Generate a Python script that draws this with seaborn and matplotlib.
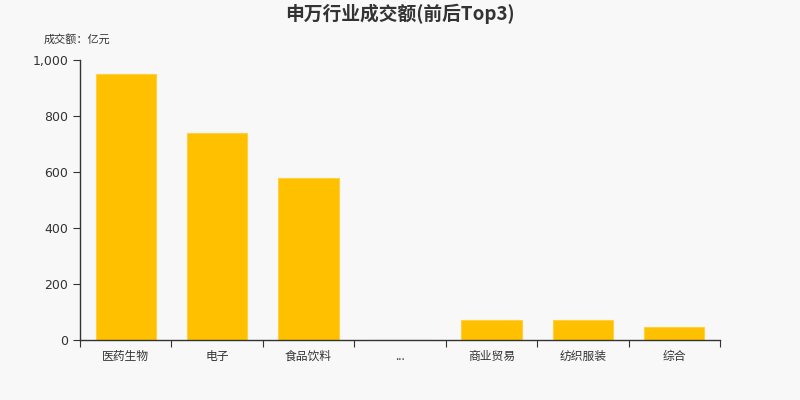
import matplotlib
matplotlib.use('Agg')
import matplotlib.pyplot as plt
import matplotlib.ticker as mticker
import seaborn as sns
import pandas as pd

# chart values
industries = ['医药生物', '电子', '食品饮料', '...', '商业贸易', '纺织服装', '综合']
turnover = [950, 739, 579, 0, 71, 70, 46]
y_ticks = [0, 200, 400, 600, 800, 1000]

sns.set_style('ticks')
plt.rcParams['font.family'] = ['DejaVu Sans', 'Noto Sans CJK SC']
cjk = ['Noto Sans CJK SC', 'DejaVu Sans']
txt = '#333333'

df = pd.DataFrame({'industry': industries, 'turnover': turnover})

fig = plt.figure(figsize=(8, 4), dpi=100, facecolor='#f8f8f8')
ax = fig.add_axes([0.1, 0.15, 0.8, 0.7])
ax.set_facecolor('#f8f8f8')

sns.barplot(data=df, x='industry', y='turnover', color='#ffc000', saturation=1,
            width=0.66, edgecolor='#ffd040', linewidth=0.8, ax=ax)

ax.set_xlim(-0.5, len(industries) - 0.5)
ax.set_ylim(0, 1000)
ax.set_yticks(y_ticks)
ax.yaxis.set_major_formatter(mticker.FuncFormatter(lambda v, p: f'{int(v):,}'))

# ticks between categories, labels at centres
ax.set_xticks([i - 0.5 for i in range(len(industries) + 1)])
ax.set_xticklabels([])
ax.set_xticks(range(len(industries)), minor=True)
ax.set_xticklabels(industries, minor=True, family=cjk, fontsize=8.5, color=txt)
ax.tick_params(axis='x', which='minor', length=0, pad=7)
ax.tick_params(axis='x', which='major', length=5, color=txt)
ax.tick_params(axis='y', length=5, color=txt, labelsize=9, labelcolor=txt)

ax.set_xlabel('')
ax.set_ylabel('')
for s in ['top', 'right']:
    ax.spines[s].set_visible(False)
for s in ['left', 'bottom']:
    ax.spines[s].set_color(txt)
    ax.spines[s].set_linewidth(1)

fig.text(0.5, 0.965, '申万行业成交额(前后Top3)', ha='center', va='center',
         family=cjk, fontsize=13.5, fontweight='semibold', color=txt)
fig.text(0.055, 0.902, '成交额：亿元', ha='left', va='center',
         family=cjk, fontsize=8, color=txt)

fig.savefig('out.png', dpi=100, facecolor=fig.get_facecolor())
